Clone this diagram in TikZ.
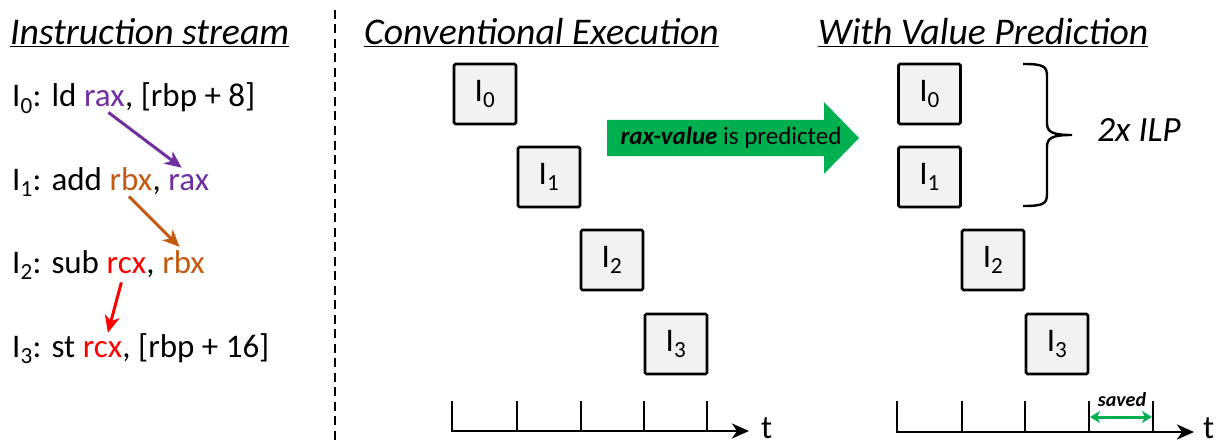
\documentclass[tikz,border=0pt]{standalone}
\usepackage{fontspec}
\setmainfont{Carlito}
\usetikzlibrary{arrows.meta}
\definecolor{cpurple}{HTML}{7030A0}
\definecolor{corange}{HTML}{C55A11}
\definecolor{cred}{HTML}{FF0000}
\definecolor{cgreen}{HTML}{00B050}
\definecolor{boxfill}{HTML}{F2F2F2}
\begin{document}
\begin{tikzpicture}[x=1pt,y=-1pt,
  word/.style={inner sep=0pt,anchor=base west,font=\fontsize{33}{38}\selectfont},
  title/.style={inner sep=0pt,anchor=base west,font=\fontsize{37.7}{42}\selectfont\itshape},
  ibox/.style={draw,line width=2.6pt,fill=boxfill,rounded corners=1.5pt,minimum width=62pt,minimum height=60pt,inner sep=0pt,font=\fontsize{33}{38}\selectfont},
  dep/.style={line width=3pt,-{Stealth[length=17pt,width=15pt,inset=5pt]}},
  axis/.style={line width=2.8pt,-{Stealth[length=17pt,width=15pt,inset=5pt]}},
  tick/.style={line width=2.4pt},
  tlabel/.style={inner sep=0pt,anchor=base west,font=\fontsize{33}{38}\selectfont}
]
\useasboundingbox (0,0) rectangle (1228,441);

% titles
\node[title] (tis) at (10,45) {\underline{Instruction stream}};
\node[title] (tce) at (364,45) {\underline{Conventional Execution}};
\node[title] (tvp) at (818,45) {\underline{With Value Prediction}};

% separator
\draw[line width=2.6pt,dash pattern=on 9pt off 5.5pt] (335,10) -- (335,441);

% instruction stream
\node[word] (a0) at (12,107) {I\textsubscript{0}: ld\kern.22em};
\node[word,text=cpurple] (rax0) at (a0.base east) {rax};
\node[word] (c0) at (rax0.base east) {, [rbp + 8]};

\node[word] (a1) at (12,190) {I\textsubscript{1}: add\kern.22em};
\node[word,text=corange] (rbx1) at (a1.base east) {rbx};
\node[word] (b1) at (rbx1.base east) {,\kern.22em};
\node[word,text=cpurple] (rax1) at (b1.base east) {rax};

\node[word] (a2) at (12,273) {I\textsubscript{2}: sub\kern.22em};
\node[word,text=cred] (rcx2) at (a2.base east) {rcx};
\node[word] (b2) at (rcx2.base east) {,\kern.22em};
\node[word,text=corange] (rbx2) at (b2.base east) {rbx};

\node[word] (a3) at (12,357) {I\textsubscript{3}: st\kern.22em};
\node[word,text=cred] (rcx3) at (a3.base east) {rcx};
\node[word] (c3) at (rcx3.base east) {, [rbp + 16]};

\draw[dep,cpurple] ([xshift=4pt,yshift=-5pt]rax0.south) -- ([xshift=-7pt,yshift=6pt]rax1.north);
\draw[dep,corange] ([xshift=-2pt,yshift=-6pt]rbx1.south) -- ([xshift=-4pt,yshift=3pt]rbx2.north);
\draw[dep,cred] ([xshift=-5pt,yshift=-9pt]rcx2.south) -- ([xshift=5.5pt,yshift=8pt]rcx3.north);

% conventional execution
\node[ibox] (ci0) at (485,94) {I\textsubscript{0}};
\node[ibox] (ci1) at (549,177) {I\textsubscript{1}};
\node[ibox] (ci2) at (612,260) {I\textsubscript{2}};
\node[ibox] (ci3) at (676,344) {I\textsubscript{3}};

% value prediction
\node[ibox] (vi0) at (929.5,94) {I\textsubscript{0}};
\node[ibox] (vi1) at (929.5,177) {I\textsubscript{1}};
\node[ibox] (vi2) at (993,260) {I\textsubscript{2}};
\node[ibox] (vi3) at (1057,344) {I\textsubscript{3}};

% green arrow
\fill[cgreen] (607,120) -- (824,120) -- (824,102) -- (859,138) -- (824,174) -- (824,156) -- (607,156) -- cycle;
\node[inner sep=0pt,font=\fontsize{25}{30}\selectfont] (pred) at (731,138) {\textbf{\textit{rax-value}} is predicted};

% brace
\draw[line width=2.4pt] (1023,64) .. controls (1043,64) and (1047,66) .. (1047,76) -- (1047,123)
  .. controls (1047,132) and (1052,135) .. (1072,135)
  .. controls (1052,135) and (1047,138) .. (1047,147) -- (1047,194)
  .. controls (1047,204) and (1043,206) .. (1023,206);
\node[inner sep=0pt,anchor=base west,font=\fontsize{35.5}{42}\selectfont\itshape] (ilp) at (1097,141) {2x ILP};

% timelines
\coordinate (ca) at (452,431);
\coordinate (cb) at (749,431);
\draw[axis] (ca) -- (cb);
\foreach \x in {452,517,581,644,707} \draw[tick] (\x,401) -- (\x,432);
\node[tlabel] (ct) at (761,438.5) {t};

\coordinate (va) at (897,432);
\coordinate (vb) at (1194,432);
\draw[axis] (va) -- (vb);
\foreach \x in {897,962,1025,1089,1153} \draw[tick] (\x,401) -- (\x,433);
\node[tlabel] (vt) at (1203,438.5) {t};

\coordinate (s1) at (1090,417);
\coordinate (s2) at (1152,417);
\draw[cgreen,line width=3pt,{Stealth[length=10pt,width=12pt,inset=3pt]}-{Stealth[length=10pt,width=12pt,inset=3pt]}] (s1) -- (s2);
\node[inner sep=0pt,anchor=base,font=\fontsize{20}{24}\selectfont\bfseries\itshape] (saved) at (1122,406) {saved};
\end{tikzpicture}
\end{document}
